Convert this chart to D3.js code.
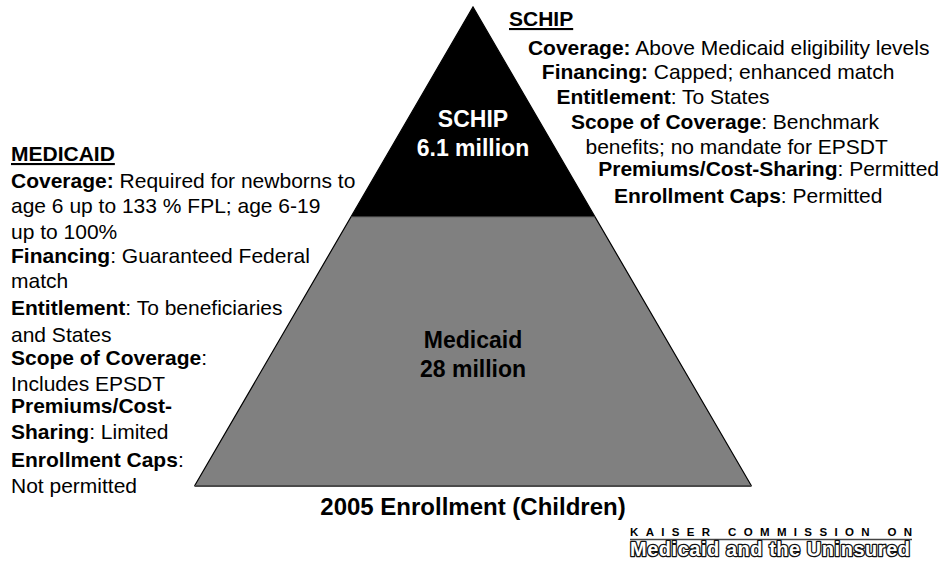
<!DOCTYPE html>
<html>
<head>
<meta charset="utf-8">
<script src="https://cdn.jsdelivr.net/npm/d3@7"></script>
<style>
  body { margin: 0; background: #fff; }
  svg { display: block; font-family: "Liberation Sans", Arial, sans-serif; }
  text { white-space: pre; }
</style>
</head>
<body>
<svg id="chart"></svg>
<script>
// data
const tiers = ["SCHIP", "Medicaid"];
const enrollment = [6.1, 28];          // millions of children, 2005
const tierLabels = ["6.1 million", "28 million"];
const chartTitle = "2005 Enrollment (Children)";

const medicaidHeader = "MEDICAID";
const medicaidNotes = [
  ["Coverage:", " Required for newborns to"],
  ["", "age 6 up to 133 % FPL; age 6-19"],
  ["", "up to 100%"],
  ["Financing", ": Guaranteed Federal"],
  ["", "match"],
  ["Entitlement", ": To beneficiaries"],
  ["", "and States"],
  ["Scope of Coverage", ":"],
  ["", "Includes EPSDT"],
  ["Premiums/Cost-", ""],
  ["Sharing", ": Limited"],
  ["Enrollment Caps", ":"],
  ["", "Not permitted"]
];

const schipHeader = "SCHIP";
const schipNotes = [
  ["Coverage:", " Above Medicaid eligibility levels"],
  ["Financing:", " Capped; enhanced match"],
  ["Entitlement", ": To States"],
  ["Scope of Coverage", ": Benchmark"],
  ["", "benefits; no mandate for EPSDT"],
  ["Premiums/Cost-Sharing", ": Permitted"],
  ["Enrollment Caps", ": Permitted"]
];

const sourceLines = ["KAISER COMMISSION ON", "Medicaid and the Uninsured"];

// layout (text baselines, px)
const medicaidLineY = [188, 213, 239, 263, 288, 315, 342, 365, 391, 413, 439, 467, 493];
const schipLineY = [55, 79, 104, 129, 154, 176, 203];

const width = 946, height = 563;
const apex = { x: 473, y: 7 };
const baseY = 486, halfBase = 278.5;

const svg = d3.select("#chart")
    .attr("width", width)
    .attr("height", height);

const total = d3.sum(enrollment);
const cum = d3.cumsum(enrollment);

// depth of each tier boundary from the cumulative enrollment
const yScale = d3.scalePow().exponent(0.48)
    .domain([0, total])
    .range([apex.y, baseY]);

// half width of the pyramid at a given y
const halfW = d3.scaleLinear()
    .domain([apex.y, baseY])
    .range([0, halfBase]);

const tierData = tiers.map((t, i) => ({
  name: t,
  label: tierLabels[i],
  y0: yScale(cum[i] - enrollment[i]),
  y1: yScale(cum[i]),
  fill: i === 0 ? "#000" : "#808080",
  labelAt: i === 0 ? 0.6 : 0.51
}));

const pts = d => [
  [apex.x - halfW(d.y0), d.y0], [apex.x + halfW(d.y0), d.y0],
  [apex.x + halfW(d.y1), d.y1], [apex.x - halfW(d.y1), d.y1]
];

svg.selectAll(".tier")
  .data(tierData)
  .join("polygon")
    .attr("class", "tier")
    .attr("points", d => pts(d).join(" "))
    .attr("fill", d => d.fill);

// outline: slanted sides black, base dark gray
const line = d3.line();
svg.append("path")
    .attr("d", line([[apex.x - halfW(baseY), baseY], [apex.x, apex.y], [apex.x + halfW(baseY), baseY]]))
    .attr("fill", "none")
    .attr("stroke", "#000")
    .attr("stroke-width", 1.2);
svg.append("path")
    .attr("d", line([[apex.x - halfW(baseY), baseY], [apex.x + halfW(baseY), baseY]]))
    .attr("stroke", "#4a4a4a")
    .attr("stroke-width", 2);
svg.append("path")
    .attr("d", line([[apex.x - halfW(tierData[1].y0), tierData[1].y0], [apex.x + halfW(tierData[1].y0), tierData[1].y0]]))
    .attr("stroke", "#333")
    .attr("stroke-width", 1);

// tier labels
const lblSize = 23, lblLine = 29;
tierData.forEach((d, i) => {
  const cy = d.y0 + (d.y1 - d.y0) * d.labelAt;
  const b1 = cy - lblLine / 2 + lblSize * 0.716 / 2;
  const g = svg.append("text")
      .attr("text-anchor", "middle")
      .attr("font-size", lblSize)
      .attr("font-weight", "bold")
      .attr("fill", i === 0 ? "#fff" : "#000");
  g.append("tspan").attr("x", apex.x).attr("y", b1).text(d.name);
  g.append("tspan").attr("x", apex.x).attr("y", b1 + lblLine).text(d.label);
});

// note blocks
const fs = 21;
function noteLine(x, y, parts) {
  const t = svg.append("text")
      .attr("x", x).attr("y", y)
      .attr("font-size", fs)
      .attr("fill", "#000");
  if (parts[0]) t.append("tspan").attr("font-weight", "bold").text(parts[0]);
  if (parts[1]) t.append("tspan").text(parts[1]);
}
function header(x, y, txt) {
  svg.append("text")
      .attr("x", x).attr("y", y)
      .attr("font-size", fs)
      .attr("font-weight", "bold")
      .attr("text-decoration", "underline")
      .text(txt);
}

// MEDICAID, left
header(11, 161, medicaidHeader);
medicaidNotes.forEach((p, i) => noteLine(11, medicaidLineY[i], p));

// SCHIP, right, indented along the pyramid edge
header(509, 26, schipHeader);
schipNotes.forEach((p, i) => {
  const y = schipLineY[i];
  noteLine(apex.x + halfW(y) + 27, y, p);
});

// bottom title
svg.append("text")
    .attr("x", apex.x).attr("y", 515)
    .attr("text-anchor", "middle")
    .attr("font-size", 24)
    .attr("font-weight", "bold")
    .text(chartTitle);

// source logo
const logoX = 630, logoW = 282;
svg.append("text")
    .attr("x", logoX).attr("y", 536)
    .attr("font-size", 11.5)
    .attr("font-weight", "bold")
    .attr("textLength", logoW)
    .attr("lengthAdjust", "spacing")
    .text(sourceLines[0]);
svg.append("path")
    .attr("d", line([[logoX, 539.5], [logoX + logoW, 539.5]]))
    .attr("stroke", "#444")
    .attr("stroke-width", 1.3);
svg.append("text")
    .attr("x", logoX).attr("y", 556)
    .attr("font-size", 20)
    .attr("font-weight", "bold")
    .attr("textLength", logoW - 2)
    .attr("lengthAdjust", "spacing")
    .attr("fill", "#fff")
    .attr("stroke", "#111")
    .attr("stroke-width", 2.6)
    .attr("stroke-linejoin", "round")
    .attr("paint-order", "stroke")
    .text(sourceLines[1]);
</script>
</body>
</html>
